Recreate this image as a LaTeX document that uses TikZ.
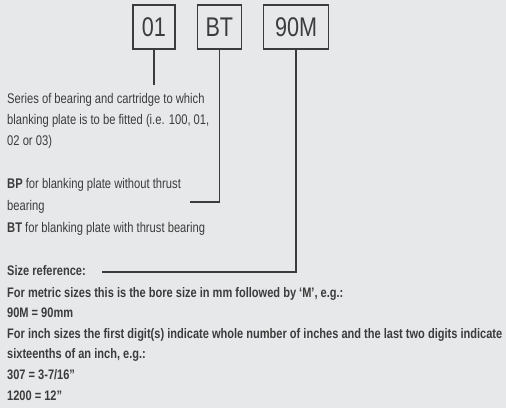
\documentclass[tikz,border=0pt]{standalone}
\usepackage{fontspec}
\setmainfont{Liberation Sans}[FakeStretch=0.8]
\usetikzlibrary{positioning}
\definecolor{bgrey}{HTML}{E7E8EA}
\definecolor{ink}{HTML}{3C3C3C}

\begin{document}
\begin{tikzpicture}[
  x=1pt, y=-1pt,
  codebox/.style={rectangle, draw=ink, line width=1.3pt, text=ink, font=\fontsize{27}{30}\selectfont, minimum height=44pt, inner sep=0pt},
  note/.style={text=ink, align=left, inner sep=0pt, anchor=base west, font=\fontsize{14}{21}\selectfont},
  link/.style={draw=ink, line width=1.3pt},
  node distance=21pt
]
\fill[bgrey] (0,0) rectangle (506,408);
\useasboundingbox (0,0) rectangle (506,408);

% Codigo
\node[codebox, minimum width=42pt] (b01) at (154,27) {01};
\node[codebox, minimum width=44pt, right=of b01] (bbt) {BT};
\node[codebox, minimum width=65pt, right=of bbt] (b90m) {90M};

% Textos (anclados en la ultima linea)
\node[note] (series) at (7,145) {Series of bearing and cartridge to which\\blanking plate is to be fitted (i.e. 100, 01,\\02 or 03)};
\node[note, font=\fontsize{14}{22}\selectfont] (bpbt) at (7,232) {\textbf{BP} for blanking plate without thrust\\bearing\\\textbf{BT} for blanking plate with thrust bearing};
\node[note, font=\fontsize{13.8}{21}\selectfont\bfseries] (sizehead) at (7,275) {Size reference:};
\node[note, font=\fontsize{13.8}{20.6}\selectfont\bfseries] (sizetext) at (7,400) {For metric sizes this is the bore size in mm followed by `M', e.g.:\\90M = 90mm\\For inch sizes the first digit(s) indicate whole number of inches and the last two digits indicate\\sixteenths of an inch, e.g.:\\307 = 3-7/16''\\1200 = 12''};

% Conexiones
\coordinate (bpend) at (190,202);
\draw[link] (b01) -- ([yshift=8pt]series.north -| b01);
\draw[link] (bbt) |- (bpend);
\draw[link] (b90m) |- ([xshift=16pt,yshift=-2pt]sizehead.east);

\end{tikzpicture}
\end{document}
